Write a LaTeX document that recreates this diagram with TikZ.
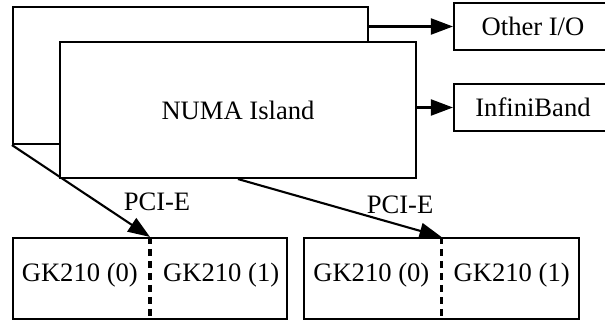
\documentclass[tikz,border=0pt]{standalone}
\usepackage{fontspec}
\setmainfont{Liberation Serif}
\usetikzlibrary{arrows.meta}
\begin{document}
\begin{tikzpicture}[x=1pt,y=-1pt,
  box/.style={draw, line width=2.1pt, fill=white, inner sep=0pt},
  lbl/.style={inner sep=0pt, font=\fontsize{26.6}{30}\selectfont},
  conn/.style={line width=2.1pt, -{Triangle[length=22pt,width=16pt]}},
  divider/.style={line width=3.2pt, dash pattern=on 7pt off 5pt}]
\useasboundingbox (0,0) rectangle (605,321);
\clip (0,0) rectangle (605,321);
% back island
\node[box, minimum width=355pt, minimum height=137pt] (back) at (190.5,75.5) {};
% outer boxes
\node[box, minimum width=158pt, minimum height=47pt, lbl] (other) at (533,26.5) {Other I/O};
\node[box, minimum width=158pt, minimum height=47pt, lbl] (ib) at (533,107.5) {InfiniBand};
% GPU boards
\node[box, minimum width=274pt, minimum height=81pt] (g1) at (150,278.5) {};
\node[box, minimum width=275pt, minimum height=81pt] (g2) at (441.5,278.5) {};
\draw[divider] (g1.north) -- (g1.south);
\draw[divider] (g2.north) -- (g2.south);
\node[lbl, anchor=east] (g1a) at ([xshift=-12pt,yshift=3pt]g1.center) {GK210 (0)};
\node[lbl, anchor=west] (g1b) at ([xshift=13pt,yshift=3pt]g1.center) {GK210 (1)};
\node[lbl, anchor=east] (g2a) at ([xshift=-12pt,yshift=3pt]g2.center) {GK210 (0)};
\node[lbl, anchor=west] (g2b) at ([xshift=12pt,yshift=3pt]g2.center) {GK210 (1)};
% connectors
\draw[conn] (back.south west) -- (g1.north);
\draw[conn] (other.west -| back.east) -- (other.west);
% front island
\node[box, minimum width=356pt, minimum height=136pt, lbl] (front) at (238,110) {NUMA Island};
\draw[conn] (ib.west -| front.east) -- (ib.west);
\draw[conn] (front.south) -- (g2.north);
% labels
\node[lbl] (p1) at (157,202) {PCI-E};
\node[lbl] (p2) at (400,205) {PCI-E};
\end{tikzpicture}
\end{document}
